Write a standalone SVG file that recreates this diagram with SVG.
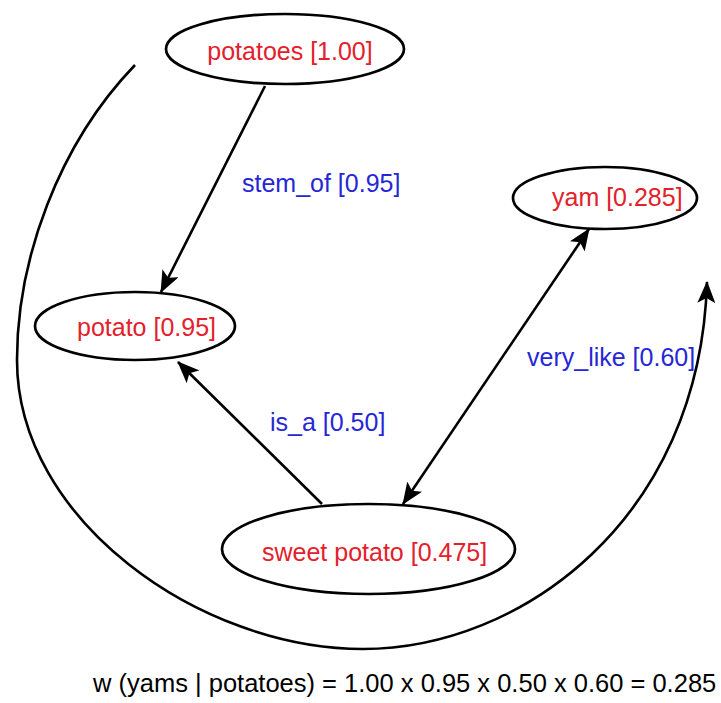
<svg xmlns="http://www.w3.org/2000/svg" width="721" height="703" viewBox="0 0 721 703">
<style>
.node ellipse{fill:#fff;stroke:#000;stroke-width:2.7}
.nl{font-family:"Liberation Sans",Arial,sans-serif;font-size:25px;fill:#e3202b}
.el{font-family:"Liberation Sans",Arial,sans-serif;font-size:25px;fill:#2626d6}
.ft{font-family:"Liberation Sans",Arial,sans-serif;font-size:25.5px;fill:#000}
#edges path,#edges line{fill:none;stroke:#000;stroke-width:2.6}
</style>
<defs>
<marker id="ah" viewBox="0 0 22 18" refX="21" refY="9" markerWidth="22" markerHeight="18" markerUnits="userSpaceOnUse" orient="auto-start-reverse">
<path d="M0,0 L22,9 L0,18 L5,9 z" fill="#000"/>
</marker>
</defs>
<rect width="721" height="703" fill="#fff"/>
<g id="edges">
<line x1="265" y1="86" x2="161" y2="292" marker-end="url(#ah)"/>
<line x1="322" y1="504" x2="178" y2="362" marker-end="url(#ah)"/>
<line x1="403" y1="504" x2="589" y2="229" marker-start="url(#ah)" marker-end="url(#ah)"/>
<path d="M135,65 C58,145 17,260 17,360 C17,520 200,649 363,649 C520,649 700,520 707,282" marker-end="url(#ah)"/>
<text class="el" x="242" y="192">stem_of [0.95]</text>
<text class="el" x="270" y="431">is_a [0.50]</text>
<text class="el" x="527" y="366">very_like [0.60]</text>
</g>
<g id="n-potatoes" class="node">
<ellipse cx="285" cy="49" rx="119" ry="35"/>
<text class="nl" x="290" y="60" text-anchor="middle">potatoes [1.00]</text>
</g>
<g id="n-potato" class="node">
<ellipse cx="135" cy="326" rx="100" ry="34"/>
<text class="nl" x="77" y="336">potato [0.95]</text>
</g>
<g id="n-yam" class="node">
<ellipse cx="605" cy="198" rx="92" ry="31"/>
<text class="nl" x="552" y="206">yam [0.285]</text>
</g>
<g id="n-sweetpotato" class="node">
<ellipse cx="368.500" cy="549" rx="146.500" ry="45"/>
<text class="nl" x="262" y="561">sweet potato [0.475]</text>
</g>
<text class="ft" x="93" y="692">w (yams | potatoes) = 1.00 x 0.95 x 0.50 x 0.60 = 0.285</text>
</svg>
